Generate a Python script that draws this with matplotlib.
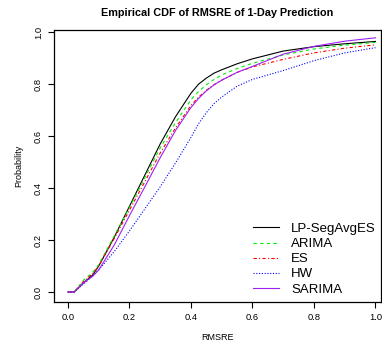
import matplotlib
matplotlib.use("Agg")
import matplotlib.pyplot as plt

plt.rcParams['font.family'] = ['Liberation Sans', 'DejaVu Sans']

# RMSRE grid and read-off CDF values for each method
rmsre = [0.0, 0.02, 0.05, 0.08, 0.1, 0.15, 0.2, 0.25, 0.3, 0.35, 0.4, 0.425,
         0.45, 0.475, 0.5, 0.55, 0.6, 0.7, 0.8, 0.9, 1.0]
lp_segavg = [0.0, 0.0, 0.035, 0.065, 0.10, 0.21, 0.33, 0.45, 0.57, 0.675, 0.765, 0.80,
             0.823, 0.842, 0.855, 0.878, 0.897, 0.927, 0.944, 0.955, 0.964]
arima = [0.0, 0.0, 0.045, 0.075, 0.105, 0.215, 0.325, 0.44, 0.555, 0.652, 0.74, 0.772,
         0.797, 0.818, 0.835, 0.86, 0.88, 0.912, 0.935, 0.95, 0.96]
es = [0.0, 0.0, 0.04, 0.07, 0.10, 0.205, 0.315, 0.425, 0.535, 0.632, 0.718, 0.75,
      0.776, 0.798, 0.815, 0.845, 0.866, 0.895, 0.92, 0.938, 0.951]
hw = [0.0, 0.0, 0.03, 0.062, 0.085, 0.155, 0.235, 0.32, 0.405, 0.497, 0.595, 0.648,
      0.69, 0.725, 0.75, 0.792, 0.818, 0.852, 0.89, 0.92, 0.94]
sarima = [0.0, 0.0, 0.035, 0.06, 0.085, 0.18, 0.294, 0.405, 0.517, 0.622, 0.71, 0.745,
          0.774, 0.797, 0.815, 0.845, 0.868, 0.915, 0.945, 0.965, 0.978]

labels = ["LP-SegAvgES", "ARIMA", "ES", "HW", "SARIMA"]
series = [lp_segavg, arima, es, hw, sarima]
colors = ["black", "#00ee00", "#ff0000", "#0000ff", "#a020f0"]
dashes = [None, (3, 3), (3, 2, 1, 2), (1, 1.5), None]

fig = plt.figure(figsize=(3.82, 3.41), dpi=100)
ax = fig.add_axes([0.1414, 0.1144, 0.856, 0.7976])

for lab, ys, c, d in zip(labels, series, colors, dashes):
    line, = ax.plot(rmsre, ys, color=c, lw=0.8, label=lab)
    if d is not None:
        line.set_dashes(d)

ax.set_xlim(-0.0455, 1.018)
ax.set_ylim(-0.0385, 1.008)
ticks = [0.0, 0.2, 0.4, 0.6, 0.8, 1.0]
ax.set_xticks(ticks)
ax.set_yticks(ticks)
ax.set_xticklabels([f"{t:.1f}" for t in ticks])
ax.set_yticklabels([f"{t:.1f}" for t in ticks], rotation=90, va="center")
ax.tick_params(labelsize=6.7, length=4, width=0.8, pad=4)
for s in ax.spines.values():
    s.set_linewidth(0.9)

ax.set_title("Empirical CDF of RMSRE of 1-Day Prediction", fontsize=7.8,
             fontweight="bold", pad=10)
ax.set_xlabel("RMSRE", fontsize=6.5, labelpad=8)
ax.set_ylabel("Probability", fontsize=6.5, labelpad=8)

ax.legend(loc="lower right", bbox_to_anchor=(1.025, -0.025), frameon=False,
          fontsize=9.5, handlelength=2.0, handletextpad=0.9,
          labelspacing=0.22, borderaxespad=0.6)

fig.savefig("out.png", dpi=100)
